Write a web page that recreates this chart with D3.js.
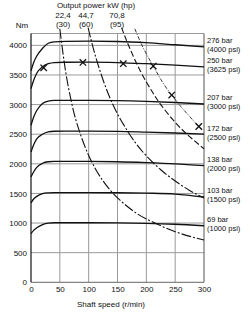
<!DOCTYPE html>
<html><head><meta charset="utf-8">
<script src="https://cdn.jsdelivr.net/npm/d3@7"></script>
<style>body{margin:0;background:#fff}svg{display:block}text{font-family:"Liberation Sans",Arial,sans-serif;fill:#111}</style>
</head><body>
<script>
// ---- data ----
const xTicks = [0, 50, 100, 150, 200, 250, 300];
const yTicks = [0, 500, 1000, 1500, 2000, 2500, 3000, 3500, 4000];
const pressureBar = ["276 bar", "250 bar", "207 bar", "172 bar", "138 bar", "103 bar", "69 bar"];
const pressurePsi = ["(4000 psi)", "(3625 psi)", "(3000 psi)", "(2500 psi)", "(2000 psi)", "(1500 psi)", "(1000 psi)"];
const speeds = [0, 5, 10, 20, 30, 40, 60, 100, 150, 200, 250, 300];
const torque276 = [3570, 3720, 3820, 3950, 4035, 4060, 4068, 4070, 4065, 4045, 4010, 3975];
const torque250 = [3270, 3420, 3530, 3640, 3690, 3710, 3715, 3718, 3710, 3690, 3665, 3635];
const torque207 = [2650, 2800, 2900, 3020, 3060, 3070, 3072, 3072, 3068, 3055, 3035, 3010];
const torque172 = [2200, 2330, 2420, 2500, 2540, 2550, 2552, 2552, 2548, 2535, 2520, 2500];
const torque138 = [1780, 1870, 1940, 2010, 2035, 2040, 2040, 2040, 2035, 2020, 2000, 1970];
const torque103 = [1340, 1410, 1450, 1495, 1510, 1515, 1515, 1515, 1512, 1505, 1490, 1440];
const torque69  = [820, 880, 920, 975, 1000, 1005, 1005, 1005, 1002, 995, 980, 955];
const powerLabels = ["22,4", "44,7", "70,8"];
const powerHp = ["(30)", "(60)", "(95)"];
const power22 = [[50,4280],[60,3560],[70,3050],[80,2670],[100,2140],[125,1710],[150,1425],[175,1220],[200,1070],[250,855],[300,715]];
const power44 = [[99,4300],[110,3880],[125,3415],[142,3000],[160,2670],[180,2370],[200,2135],[225,1900],[250,1710],[275,1550],[300,1425]];
const power70 = [[157,4300],[170,3980],[190,3560],[210,3220],[225,3000],[250,2700],[275,2460],[300,2255]];
const powerMax = [[180,4280],[195,3950],[212,3650],[228,3380],[244,3160],[260,2965],[275,2800],[291,2630],[296,2590]];
const crosses = [[22,3620],[90,3712],[160,3690],[212,3650],[244,3160],[291,2630]];

// ---- chart ----
const W = 250, H = 314;
const svg = d3.select("body").append("svg").attr("width", W).attr("height", H);
const x = d3.scaleLinear().domain([0, 300]).range([31, 204]);
const y = d3.scaleLinear().domain([0, 4200]).range([282.3, 33.5]);

const grid = svg.append("g").attr("stroke", "#9a9a9a").attr("stroke-width", 1);
xTicks.slice(1, -1).forEach(v => grid.append("line").attr("x1", x(v)).attr("x2", x(v)).attr("y1", y(4200)).attr("y2", y(0)));
yTicks.slice(1).forEach(v => grid.append("line").attr("x1", x(0)).attr("x2", x(300)).attr("y1", y(v)).attr("y2", y(v)));
grid.append("line").attr("x1", x(0)).attr("x2", x(300)).attr("y1", y(4200)).attr("y2", y(4200));
svg.append("line").attr("x1", x(300)).attr("x2", x(300)).attr("y1", y(4200)).attr("y2", y(0)).attr("stroke", "#555");
svg.append("line").attr("x1", x(0)).attr("x2", x(300)).attr("y1", y(0)).attr("y2", y(0)).attr("stroke", "#666");
svg.append("line").attr("x1", x(0)).attr("x2", x(0)).attr("y1", y(4200)).attr("y2", y(0)).attr("stroke", "#111").attr("stroke-width", 1.2);

// axes text via d3 axes
const yAxis = svg.append("g").attr("transform", `translate(${x(0)},0)`)
  .call(d3.axisLeft(y).tickValues(yTicks).tickFormat(d3.format("d")).tickSize(0).tickPadding(4));
yAxis.select(".domain").remove();
yAxis.selectAll("text").style("font-size", "8px").attr("fill", "#111");
const xAxis = svg.append("g").attr("transform", `translate(0,${y(0)})`)
  .call(d3.axisBottom(x).tickValues(xTicks).tickFormat(d3.format("d")).tickSize(0).tickPadding(4));
xAxis.select(".domain").remove();
xAxis.selectAll("text").style("font-size", "8px").attr("fill", "#111");

svg.append("text").attr("x", 111).attr("y", 306.5).attr("text-anchor", "middle").style("font-size", "8px").text("Shaft speed (r/min)");
svg.append("text").attr("x", 22).attr("y", 28).attr("text-anchor", "middle").style("font-size", "8px").text("Nm");
svg.append("text").attr("x", 96).attr("y", 8).attr("text-anchor", "middle").style("font-size", "8px").text("Output power kW (hp)");

// torque curves
const line = d3.line().x(d => x(d[0])).y(d => y(d[1])).curve(d3.curveMonotoneX);
const torques = [torque276, torque250, torque207, torque172, torque138, torque103, torque69];
torques.forEach((t, i) => {
  const pts = speeds.map((s, j) => [s, t[j]]);
  svg.append("path").attr("d", line(pts)).attr("fill", "none").attr("stroke", "#111").attr("stroke-width", 1.3);
  const yEnd = y(t[t.length - 1]);
  svg.append("text").attr("x", 207).attr("y", yEnd - 3.5).style("font-size", "7.5px").text(pressureBar[i]);
  svg.append("text").attr("x", 207).attr("y", yEnd + 5.5).style("font-size", "7.5px").text(pressurePsi[i]);
});

// power curves
const pline = d3.line().x(d => x(d[0])).y(d => y(d[1])).curve(d3.curveNatural);
const powers = [power22, power44, power70];
const dashes = ["10,2,2,2", "10,2,2,2", "6,2.5"];
const labelX = [63, 86, 117];
powers.forEach((p, i) => {
  svg.append("path").attr("d", pline(p)).attr("fill", "none").attr("stroke", "#111").attr("stroke-width", 1.1).attr("stroke-dasharray", dashes[i]);
  svg.append("text").attr("x", labelX[i]).attr("y", 17.5).attr("text-anchor", "middle").style("font-size", "8px").text(powerLabels[i]);
  svg.append("text").attr("x", labelX[i]).attr("y", 26.5).attr("text-anchor", "middle").style("font-size", "8px").text(powerHp[i]);
});
svg.append("path").attr("d", pline(powerMax)).attr("fill", "none").attr("stroke", "#222").attr("stroke-width", 0.9).attr("stroke-dasharray", "4,1.5,1,1.5");

// cross markers
const cross = svg.append("g").attr("stroke", "#111").attr("stroke-width", 1.3);
crosses.forEach(c => {
  const cx = x(c[0]), cy = y(c[1]), r = 3.2;
  cross.append("line").attr("x1", cx - r).attr("x2", cx + r).attr("y1", cy - r).attr("y2", cy + r);
  cross.append("line").attr("x1", cx - r).attr("x2", cx + r).attr("y1", cy + r).attr("y2", cy - r);
});
</script>
</body></html>
